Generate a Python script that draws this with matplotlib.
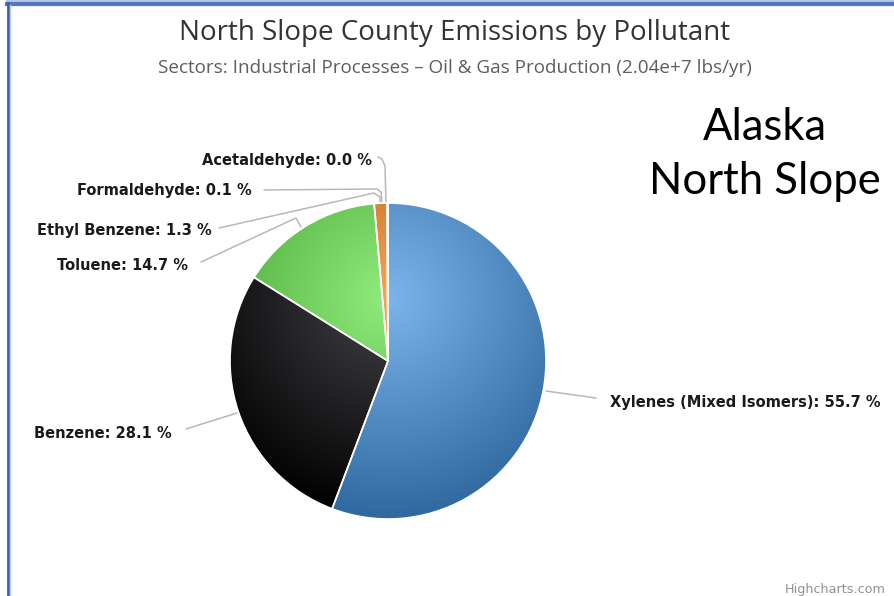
import numpy as np
import matplotlib.pyplot as plt
from matplotlib.colors import to_rgb

W, H = 895, 596

# data
pollutants = ["Xylenes (Mixed Isomers)", "Benzene", "Toluene",
              "Ethyl Benzene", "Formaldehyde", "Acetaldehyde"]
shares = [55.7, 28.1, 14.7, 1.3, 0.1, 0.0]
colors = ["#7cb5ec", "#434348", "#90ed7d", "#f7a35c", "#8085e9", "#f15c80"]

title = "North Slope County Emissions by Pollutant"
subtitle = "Sectors: Industrial Processes \u2013 Oil & Gas Production (2.04e+7 lbs/yr)"
note = ["Alaska", "North Slope"]
credit = "Highcharts.com"

# layout (pixel coords, y down)
label_pos = [(610, 403), (172, 433), (188, 265), (212, 230), (252, 190), (372, 160)]
label_ha = ["left", "right", "right", "right", "right", "right"]
connectors = [
    [(546, 391), (596, 398)],
    [(186, 429), (237, 413)],
    [(201, 262), (296, 218), (301, 227)],
    [(219, 228), (374, 193), (380, 197), (380, 203)],
    [(264, 190), (377, 189), (381, 192), (382, 203)],
    [(378, 157), (382, 159), (385, 166), (386, 203)],
]


def py(y):
    return H - y


fig = plt.figure(figsize=(W / 100, H / 100), dpi=100)
ax = fig.add_axes([0, 0, 1, 1])

cx, cy, R = 388, py(361), 158
wedges, _ = ax.pie(shares, colors=colors, startangle=90, counterclock=False,
                   center=(cx, cy), radius=R, wedgeprops=dict(linewidth=0))

# highcharts-like radial gradient: light at (0.5, 0.3) of the box, darker at edge
xs = np.linspace(cx - R, cx + R, 400)
ys = np.linspace(cy - R, cy + R, 400)
gx, gy = np.meshgrid(xs, ys)
t = np.clip(np.hypot(gx - cx, gy - (cy + 0.4 * R)) / (1.4 * R), 0, 1)[..., None]
for w, c in zip(wedges, colors):
    base = np.array(to_rgb(c))
    dark = np.clip(base - 0.3, 0, 1)
    img = base * (1 - t) + dark * t
    im = ax.imshow(img, extent=[cx - R, cx + R, cy - R, cy + R], origin="lower",
                   interpolation="bilinear", zorder=2)
    im.set_clip_path(w)

# white slice borders on top
ax.pie(shares, startangle=90, counterclock=False, center=(cx, cy), radius=R,
       wedgeprops=dict(facecolor="none", edgecolor="white", linewidth=1.2, zorder=3))

for name, val, (lx, ly), ha, path in zip(pollutants, shares, label_pos, label_ha, connectors):
    ax.text(lx, py(ly), f"{name}: {val:.1f} %", ha=ha, va="center",
            fontsize=10.5, fontweight="bold", color="#1a1a1a", zorder=4)
    ax.plot([p[0] for p in path], [py(p[1]) for p in path], color="#b8b8b8",
            lw=1.1, solid_capstyle="round", zorder=1)

ax.text(455, py(33), title, ha="center", va="center", fontsize=20,
        family="Open Sans", color="#333333")
ax.text(455, py(68), subtitle, ha="center", va="center", fontsize=13.6,
        family="Open Sans", color="#5e5e5e")
ax.text(765, py(127), note[0], ha="center", va="center", fontsize=31.4,
        family="Lato", color="black")
ax.text(765, py(182), note[1], ha="center", va="center", fontsize=31.4,
        family="Lato", color="black")
ax.text(886, py(590), credit, ha="right", va="center", fontsize=9.2,
        color="#909090")

# slide frame edges
ax.plot([7, W], [py(1), py(1)], color="#b7c6e6", lw=1.5)
ax.plot([7, W], [py(3.5), py(3.5)], color="#5577c0", lw=3)
ax.plot([8, 8], [0, py(3)], color="#3d5cb0", lw=2)
ax.plot([10, 10], [0, py(5)], color="#c2d0f0", lw=1)

ax.set_xlim(0, W)
ax.set_ylim(0, H)
ax.set_aspect("auto")
ax.axis("off")

fig.savefig("out.png", dpi=100)
